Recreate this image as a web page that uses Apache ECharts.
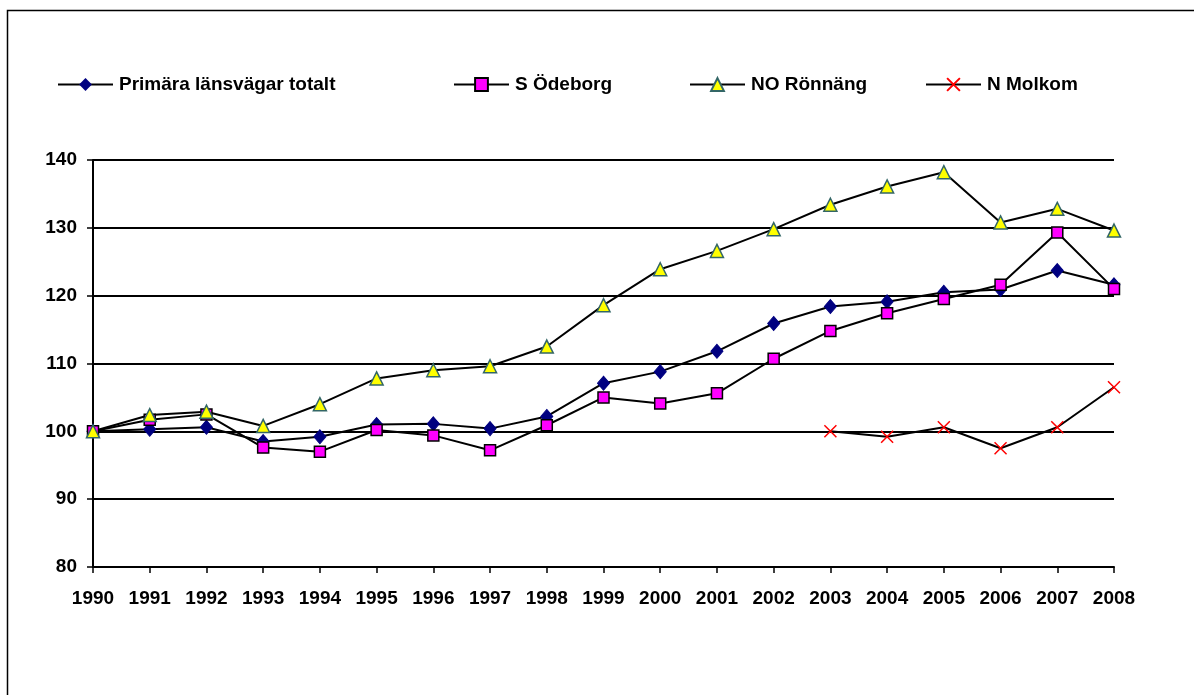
<!DOCTYPE html>
<html>
<head>
<meta charset="utf-8">
<script src="https://cdn.jsdelivr.net/npm/echarts@6/dist/echarts.min.js"></script>
<style>
html,body{margin:0;padding:0;background:#fff;}
#main{width:1194px;height:695px;}
</style>
</head>
<body>
<div id="main"></div>
<script>
// år och serier
var years = ['1990','1991','1992','1993','1994','1995','1996','1997','1998','1999',
             '2000','2001','2002','2003','2004','2005','2006','2007','2008'];
var primara = [100,100.3,100.6,98.5,99.2,101.0,101.1,100.4,102.2,107.1,
               108.8,111.8,115.9,118.4,119.1,120.5,120.9,123.7,121.6];
var odeborg = [100,101.7,102.5,97.6,97.0,100.2,99.4,97.2,100.9,105.0,
               104.1,105.6,110.7,114.8,117.4,119.5,121.6,129.3,121.0];
var ronnang = [100,102.4,102.9,100.8,104.0,107.8,109.0,109.6,112.5,118.6,
               123.9,126.6,129.8,133.4,136.1,138.2,130.8,132.8,129.6];
var molkom = [null,null,null,null,null,null,null,null,null,null,
              null,null,null,100.0,99.2,100.6,97.5,100.6,106.5];
var yTicks = {min:80, max:140, step:10};

var font = '"Liberation Sans", Arial, sans-serif';
var chart = echarts.init(document.getElementById('main'));

function legend(name, left){
	return {
		data:[name],
		left:left,
		top:75,
		padding:0,
		itemWidth:55,
		itemHeight:16,
		itemGap:0,
		textStyle:{fontFamily:font, fontWeight:'bold', fontSize:19, color:'#000', padding:[0,0,0,1]}
	};
}

var option = {
	backgroundColor:'#fff',
	animation:false,
	graphic:[{
		type:'rect',
		shape:{x:7.5, y:10.5, width:1300, height:800},
		style:{fill:'none', stroke:'#000', lineWidth:1.5},
		silent:true
	}],
	legend:[
		legend('Primära länsvägar totalt', 57),
		legend('S Ödeborg', 453),
		legend('NO Rönnäng', 689),
		legend('N Molkom', 925)
	],
	grid:{left:93, right:80, top:160, bottom:128},
	xAxis:{
		type:'category',
		data:years,
		boundaryGap:false,
		axisLine:{lineStyle:{color:'#000', width:2}},
		axisTick:{show:true, length:6, lineStyle:{color:'#000', width:1.5}},
		axisLabel:{fontFamily:font, fontWeight:'bold', fontSize:19, color:'#000', margin:22, interval:0}
	},
	yAxis:{
		type:'value',
		min:yTicks.min, max:yTicks.max, interval:yTicks.step,
		axisLine:{show:true, lineStyle:{color:'#000', width:2}},
		axisTick:{show:true, length:6, lineStyle:{color:'#000', width:1.5}},
		axisLabel:{fontFamily:font, fontWeight:'bold', fontSize:19, color:'#000', margin:16},
		splitLine:{lineStyle:{color:'#000', width:2}}
	},
	series:[
		{
			name:'Primära länsvägar totalt', type:'line', data:primara,
			symbol:'diamond', symbolSize:[12,14],
			lineStyle:{color:'#000', width:2},
			itemStyle:{color:'#000080', borderColor:'#000080'}
		},
		{
			name:'S Ödeborg', type:'line', data:odeborg,
			symbol:'rect', symbolSize:11,
			lineStyle:{color:'#000', width:2},
			itemStyle:{color:'#ff00ff', borderColor:'#000', borderWidth:1.5}
		},
		{
			name:'NO Rönnäng', type:'line', data:ronnang,
			symbol:'triangle', symbolSize:13,
			lineStyle:{color:'#000', width:2},
			itemStyle:{color:'#ffff00', borderColor:'#336666', borderWidth:1.5}
		},
		{
			name:'N Molkom', type:'line', data:molkom,
			symbol:'path://M0,0L10,10M10,0L0,10', symbolSize:12,
			lineStyle:{color:'#000', width:2},
			itemStyle:{color:'none', borderColor:'#ff0000', borderWidth:1.5}
		}
	]
};

chart.setOption(option);
</script>
</body>
</html>
